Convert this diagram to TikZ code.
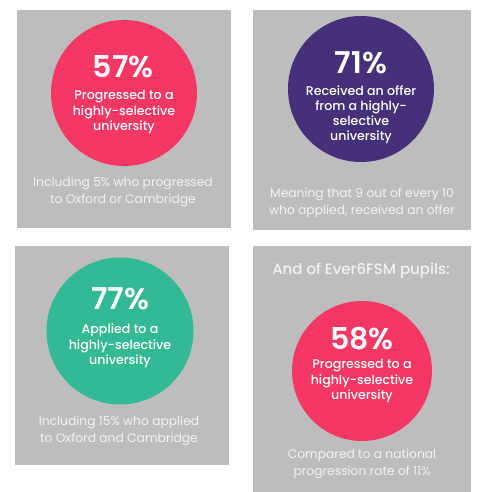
\documentclass[tikz,border=0pt]{standalone}
\usepackage{fontspec}
\setmainfont{Poppins}[BoldFont={Poppins SemiBold}]
\newfontfamily\pmed{Poppins Medium}
\definecolor{panel}{HTML}{BDBDBD}
\definecolor{pinkc}{HTML}{F43763}
\definecolor{purplec}{HTML}{45307A}
\definecolor{greenc}{HTML}{33BA94}
\definecolor{captc}{HTML}{F2F2F2}
\tikzset{
  panelbox/.style={fill=panel, draw=none},
  bubble/.style={circle, draw=none, inner sep=0pt},
  bignum/.style={text=white, font=\bfseries\fontsize{30}{32}\selectfont, inner sep=0pt},
  bubtext/.style={text=white, font=\pmed\fontsize{12.6}{15.5}\selectfont, align=center, inner sep=0pt},
  capt/.style={text=captc, font=\fontsize{12.3}{17.5}\selectfont, align=center, inner sep=0pt},
  header/.style={text=captc, font=\pmed\fontsize{15}{17}\selectfont, inner sep=0pt}
}
\begin{document}
\begin{tikzpicture}[x=1pt,y=-1pt]
\useasboundingbox (0,0) rectangle (478,492);
% panels
\fill[panelbox] (17,10) rectangle (231,228);
\fill[panelbox] (253,10) rectangle (471,229.5);
\fill[panelbox] (15,246) rectangle (229,465);
\fill[panelbox] (253,246) rectangle (470.5,492);
% circles
\node[bubble, fill=pinkc, minimum size=146pt] (c1) at (124,93) {};
\node[bubble, fill=purplec, minimum size=146pt] (c2) at (361,89) {};
\node[bubble, fill=greenc, minimum size=147pt] (c3) at (120,331) {};
\node[bubble, fill=pinkc, minimum size=140pt] (c4) at (362,371) {};
% panel 1
\node[bignum] (n1) at (123,67) {57\%};
\node[bubtext] (t1) at (124,112) {Progressed to a\\highly-selective\\university};
\node[capt] (k1) at (123,192) {Including 5\% who progressed\\to Oxford or Cambridge};
% panel 2
\node[bignum] (n2) at (361,63) {71\%};
\node[bubtext, font=\pmed\fontsize{12.6}{15}\selectfont] (t2) at (361,114.5) {Received an offer\\from a highly-\\selective\\university};
\node[capt] (k2) at (362,203) {Meaning that 9 out of every 10\\who applied, received an offer};
% panel 3
\node[bignum] (n3) at (120,299) {77\%};
\node[bubtext] (t3) at (120,346) {Applied to a\\highly-selective\\university};
\node[capt, font=\fontsize{12.3}{17}\selectfont] (k3) at (119,430.5) {Including 15\% who applied\\to Oxford and Cambridge};
% panel 4
\node[header] (h4) at (361,271) {And of Ever6FSM pupils:};
\node[bignum] (n4) at (362,339) {58\%};
\node[bubtext] (t4) at (362,381) {Progressed to a\\highly-selective\\university};
\node[capt, font=\fontsize{12.3}{17}\selectfont] (k4) at (362,463.5) {Compared to a national\\progression rate of 11\%};
\end{tikzpicture}
\end{document}
